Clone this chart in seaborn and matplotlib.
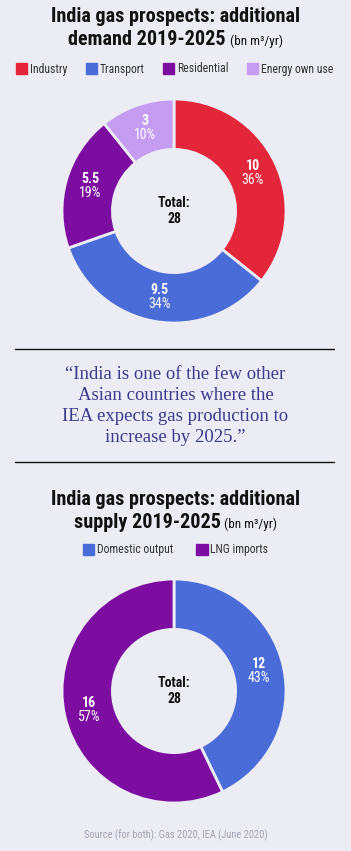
import seaborn as sns
import matplotlib.pyplot as plt
from matplotlib.patches import Patch
import numpy as np

# demand 2019-2025
demand_cats = ["Industry", "Transport", "Residential", "Energy own use"]
demand_vals = [10, 9.5, 5.5, 3]
demand_pcts = ["36%", "34%", "19%", "10%"]
demand_colors = ["#E3263A", "#4A6CD9", "#7D0DA0", "#C49CF2"]

# supply 2019-2025
supply_cats = ["Domestic output", "LNG imports"]
supply_vals = [12, 16]
supply_pcts = ["43%", "57%"]
supply_colors = ["#4A6CD9", "#7D0DA0"]

quote = ("\u201cIndia is one of the few other\nAsian countries where the\n"
         "IEA expects gas production to\nincrease by 2025.\u201d")
source = "Source (for both): Gas 2020, IEA (June 2020)"

BG = "#ECECF5"
W, H = 351, 851

sns.set_theme(style="white")
plt.rcParams["font.family"] = ["Roboto Condensed", "Roboto", "DejaVu Sans"]

fig = plt.figure(figsize=(W / 100, H / 100), dpi=100, facecolor=BG)
r = fig.canvas.get_renderer()


def fx(px):
    return px / W


def fy(py):
    return 1 - py / H


def title_line(y, text):
    fig.text(fx(W / 2), fy(y), text, ha="center", va="baseline",
             fontsize=14.5, fontweight="bold", color="#111111")


def title_two(y, big, small):
    t1 = fig.text(0, fy(y), big, ha="left", va="baseline", fontsize=14.5,
                  fontweight="bold", color="#111111")
    t2 = fig.text(0, fy(y), small, ha="left", va="baseline", fontsize=9.5,
                  color="#111111")
    w1 = t1.get_window_extent(r).width
    w2 = t2.get_window_extent(r).width
    gap = 4
    x0 = (W - (w1 + gap + w2)) / 2
    t1.set_x(fx(x0))
    t2.set_x(fx(x0 + w1 + gap))


def donut(cy, vals, colors, pcts, total):
    rad = 112
    ax = fig.add_axes([fx(174 - rad), fy(cy + rad), fx(2 * rad), 2 * rad / H])
    ax.set_facecolor(BG)
    wedges, _ = ax.pie(vals, colors=colors, startangle=90, counterclock=False,
                       radius=1, wedgeprops=dict(width=0.45, edgecolor=BG,
                                                 linewidth=2))
    ax.set_xlim(-1, 1)
    ax.set_ylim(-1, 1)
    ax.set_aspect("equal")
    tot = sum(vals)
    start = 90
    for v, p in zip(vals, pcts):
        ang = np.deg2rad(start - v / tot * 360 / 2)
        start -= v / tot * 360
        x, y = 0.78 * np.cos(ang), 0.78 * np.sin(ang)
        ax.text(x, y + 0.005, f"{v:g}", ha="center", va="bottom", color="white",
                fontsize=10, fontweight="bold")
        ax.text(x, y + 0.005, p, ha="center", va="top", color="white",
                fontsize=10)
    ax.text(0, 0, f"Total:\n{total}", ha="center", va="center",
            fontsize=10, fontweight="bold", color="#111111", linespacing=1.1)
    return wedges


# --- demand ---
title_line(22, "India gas prospects: additional")
title_two(45, "demand 2019-2025", "(bn m\u00b3/yr)")
donut(211, demand_vals, demand_colors, demand_pcts, 28)
fig.legend([Patch(color=c) for c in demand_colors], demand_cats,
           loc="center", bbox_to_anchor=(fx(W / 2 - 1), fy(69)), ncol=4,
           frameon=False, fontsize=8.5, handlelength=0.95, handleheight=0.95,
           handletextpad=0.2, columnspacing=1.6, labelcolor="#333333")

# --- quote ---
fig.add_artist(plt.Line2D([fx(15), fx(334)], [fy(349), fy(349)],
                          color="#111111", lw=1.0))
fig.add_artist(plt.Line2D([fx(15), fx(334)], [fy(462), fy(462)],
                          color="#111111", lw=1.0))
fig.text(fx(W / 2), fy(406), quote, ha="center", va="center",
         family=["Liberation Serif", "DejaVu Serif"], fontsize=13.5,
         color="#3A3A8E", linespacing=1.32)

# --- supply ---
title_line(505, "India gas prospects: additional")
title_two(528, "supply 2019-2025", "(bn m\u00b3/yr)")
fig.legend([Patch(color=c) for c in supply_colors], supply_cats,
           loc="center", bbox_to_anchor=(fx(W / 2), fy(550)), ncol=2,
           frameon=False, fontsize=8.5, handlelength=0.95, handleheight=0.95,
           handletextpad=0.2, columnspacing=2.0, labelcolor="#333333")
donut(691, supply_vals, supply_colors, supply_pcts, 28)

fig.text(fx(W / 2), fy(835), source, ha="center", va="center",
         fontsize=7.5, color="#A3A3B5")

fig.savefig("out.png", dpi=100, facecolor=BG)
